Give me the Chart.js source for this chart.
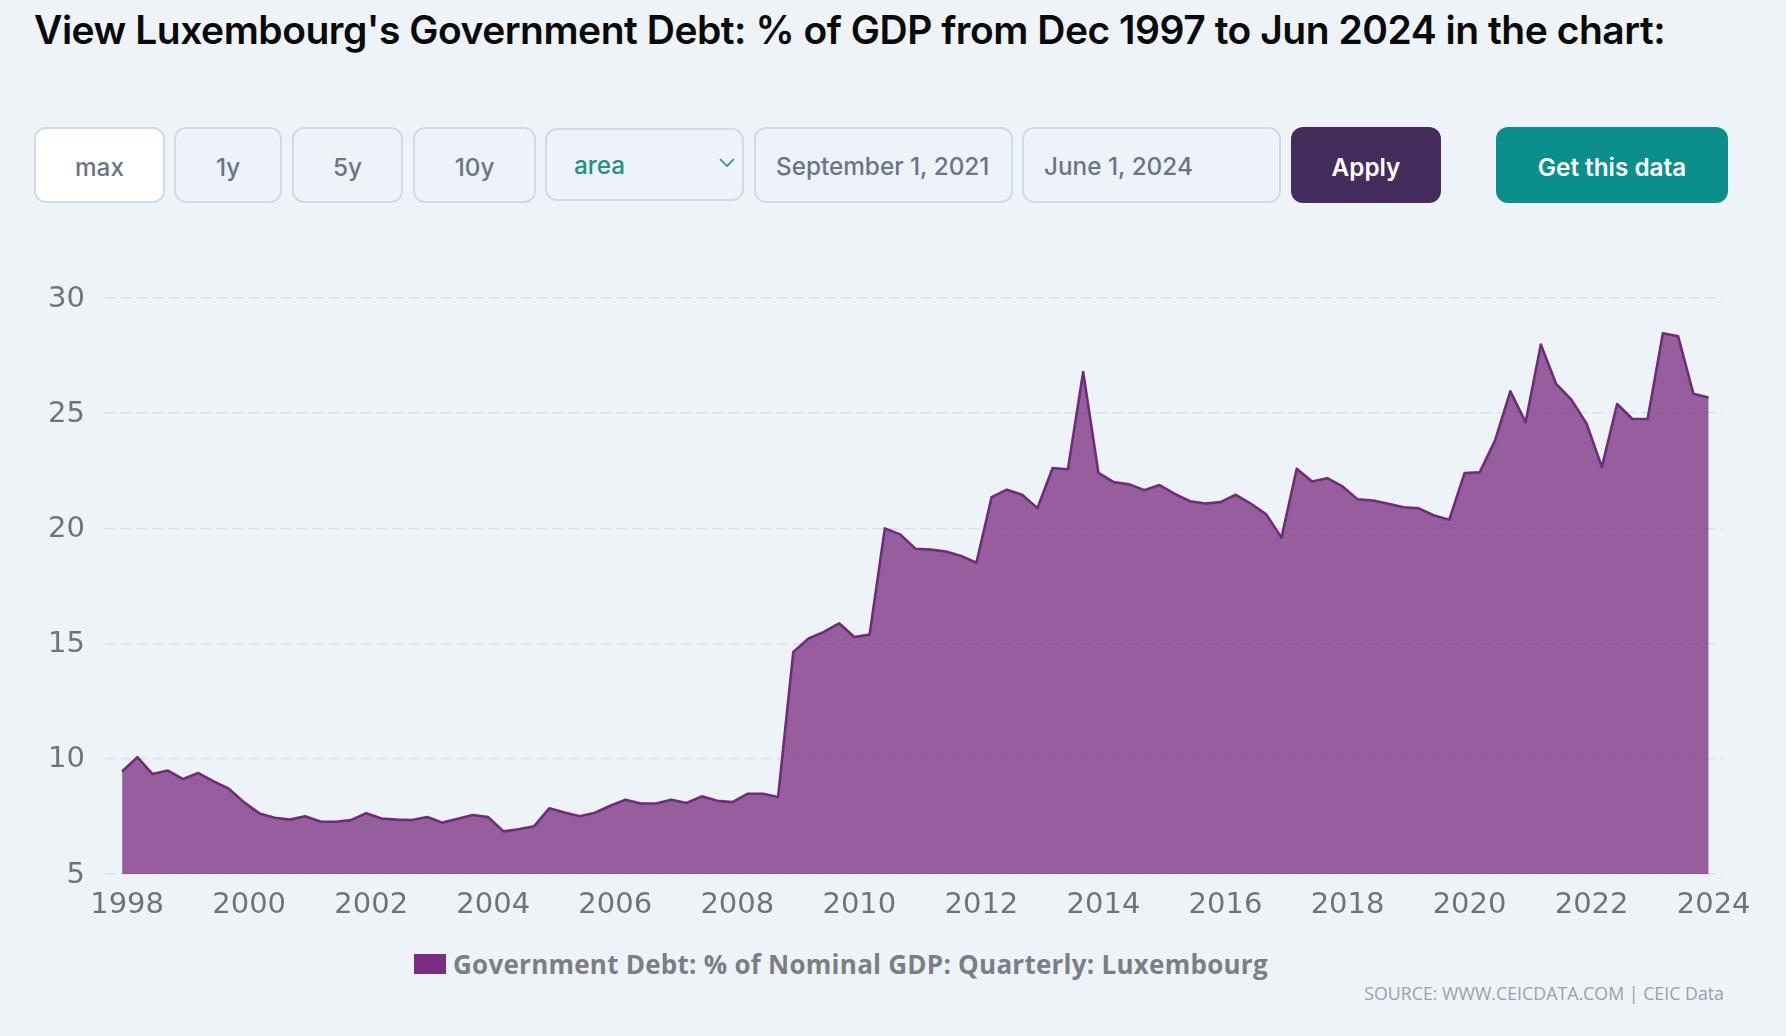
<!DOCTYPE html>
<html>
<head>
<meta charset="utf-8">
<title>Luxembourg Government Debt</title>
<script src="https://cdn.jsdelivr.net/npm/chart.js@4"></script>
<style>
  html, body { margin: 0; width: 1786px; height: 1036px; overflow: hidden; background: #eef3f8; font-family: Inter, sans-serif; }
  h1 { position: absolute; left: 34px; top: 7px; margin: 0; font-size: 39px; line-height: 46px; font-weight: 600; letter-spacing: -0.48px; color: #0a0a0a; white-space: nowrap; }
  .ctl { position: absolute; top: 127px; height: 76px; box-sizing: border-box; padding-top: 3px; border: 2px solid #cfdbe7; border-radius: 12px; background: #edf3f9; color: #6b7488; font-size: 24.3px; font-weight: 500; display: flex; align-items: center; justify-content: center; }
  .date { justify-content: flex-start; padding-left: 20px; padding-top: 1px; }
  .fill { border: none; color: #fff; font-weight: 600; }
  #chart { position: absolute; left: 0; top: 240px; }
  #legend { position: absolute; left: 414px; top: 944px; height: 40px; display: flex; align-items: center; color: #7a7f84; font: 700 26px "Open Sans", sans-serif; letter-spacing: 0.25px; white-space: nowrap; }
  #legend i { display: block; width: 32px; height: 20px; background: #7b2d85; margin-right: 7px; }
  #source { position: absolute; right: 62px; top: 981px; color: #9ba1a7; font: 17.8px "Open Sans", sans-serif; white-space: nowrap; }
</style>
</head>
<body>
<h1>View Luxembourg's Government Debt: % of GDP from Dec 1997 to Jun 2024 in the chart:</h1>

<div class="ctl" style="left:34px;width:131px;background:#fff">max</div>
<div class="ctl" style="left:174px;width:108px">1y</div>
<div class="ctl" style="left:292px;width:111px">5y</div>
<div class="ctl" style="left:413px;width:123px">10y</div>
<div class="ctl date" style="left:545px;width:199px;top:128px;height:73px;padding-left:27px;color:#1d9187">area
  <svg style="position:absolute;left:172px;top:28px" width="16" height="10" viewBox="0 0 16 10"><path d="M1 1l7 7 7-7" fill="none" stroke="#1d9187" stroke-width="1.6"/></svg>
</div>
<div class="ctl date" style="left:754px;width:259px">September 1, 2021</div>
<div class="ctl date" style="left:1022px;width:259px">June 1, 2024</div>
<div class="ctl fill" style="left:1291px;width:150px;background:#452c5c">Apply</div>
<div class="ctl fill" style="left:1496px;width:232px;background:#0b8f8c">Get this data</div>

<canvas id="chart" width="1786" height="690"></canvas>
<div id="legend"><i></i><span>Government Debt: % of Nominal GDP: Quarterly: Luxembourg</span></div>
<div id="source">SOURCE: WWW.CEICDATA.COM | CEIC Data</div>

<script>
const quarters = [
  1998, 1998.25, 1998.5, 1998.75, 1999, 1999.25, 1999.5, 1999.75,
  2000, 2000.25, 2000.5, 2000.75, 2001, 2001.25, 2001.5, 2001.75,
  2002, 2002.25, 2002.5, 2002.75, 2003, 2003.25, 2003.5, 2003.75,
  2004, 2004.25, 2004.5, 2004.75, 2005, 2005.25, 2005.5, 2005.75,
  2006, 2006.25, 2006.5, 2006.75, 2007, 2007.25, 2007.5, 2007.75,
  2008, 2008.25, 2008.5, 2008.75, 2009, 2009.25, 2009.5, 2009.75,
  2010, 2010.25, 2010.5, 2010.75, 2011, 2011.25, 2011.5, 2011.75,
  2012, 2012.25, 2012.5, 2012.75, 2013, 2013.25, 2013.5, 2013.75,
  2014, 2014.25, 2014.5, 2014.75, 2015, 2015.25, 2015.5, 2015.75,
  2016, 2016.25, 2016.5, 2016.75, 2017, 2017.25, 2017.5, 2017.75,
  2018, 2018.25, 2018.5, 2018.75, 2019, 2019.25, 2019.5, 2019.75,
  2020, 2020.25, 2020.5, 2020.75, 2021, 2021.25, 2021.5, 2021.75,
  2022, 2022.25, 2022.5, 2022.75, 2023, 2023.25, 2023.5, 2023.75,
  2024
];
const debtValues = [
  9.45, 10.07, 9.34, 9.49, 9.12, 9.38, 9.02, 8.70,
  8.11, 7.63, 7.44, 7.36, 7.51, 7.28, 7.27, 7.34,
  7.64, 7.41, 7.36, 7.34, 7.47, 7.23, 7.40, 7.56,
  7.47, 6.85, 6.94, 7.07, 7.85, 7.67, 7.51, 7.66,
  7.96, 8.22, 8.06, 8.06, 8.22, 8.08, 8.37, 8.18,
  8.12, 8.48, 8.48, 8.34, 14.64, 15.22, 15.51, 15.88,
  15.29, 15.39, 20.00, 19.74, 19.12, 19.08, 19.00, 18.80,
  18.51, 21.36, 21.68, 21.46, 20.88, 22.62, 22.57, 26.79,
  22.41, 22.01, 21.92, 21.66, 21.88, 21.50, 21.18, 21.08,
  21.14, 21.46, 21.07, 20.61, 19.60, 22.59, 22.04, 22.18,
  21.82, 21.26, 21.21, 21.07, 20.92, 20.87, 20.56, 20.38,
  22.40, 22.44, 23.82, 25.95, 24.61, 27.98, 26.27, 25.59,
  24.54, 22.66, 25.40, 24.75, 24.75, 28.47, 28.34, 25.84,
  25.68
];
const yearTicks = [1998, 2000, 2002, 2004, 2006, 2008, 2010, 2012, 2014, 2016, 2018, 2020, 2022, 2024];
const valueTicks = [5, 10, 15, 20, 25, 30];
const seriesName = "Government Debt: % of Nominal GDP: Quarterly: Luxembourg";

const tickFont = { family: "'DejaVu Sans', sans-serif", size: 29 };
const tickColor = "#6e7478";

new Chart(document.getElementById("chart").getContext("2d"), {
  type: "line",
  data: {
    datasets: [
      {
        label: seriesName,
        data: quarters.map((q, i) => ({ x: q, y: debtValues[i] })),
        borderColor: "#6d2c7c",
        backgroundColor: "rgba(121, 44, 128, 0.75)",
        borderWidth: 2.6,
        borderJoinStyle: "round",
        fill: "start",
        tension: 0,
        pointRadius: 0,
      },
    ],
  },
  options: {
    responsive: false,
    animation: false,
    layout: { padding: { top: 58, right: 63 } },
    plugins: { legend: { display: false }, tooltip: { enabled: false } },
    scales: {
      x: {
        type: "linear",
        min: 1997.72,
        max: 2024.235,
        grid: { display: false },
        border: { display: false },
        afterFit: (axis) => { axis.height = 56; },
        afterBuildTicks: (axis) => { axis.ticks = yearTicks.map((v) => ({ value: v })); },
        ticks: {
          font: tickFont,
          color: tickColor,
          padding: 6,
          labelOffset: 5,
          maxRotation: 0,
          autoSkip: false,
          callback: (v) => String(v),
        },
      },
      y: {
        min: 5,
        max: 30,
        grid: { color: "#d8dfe6", lineWidth: 1.5, drawTicks: false },
        border: { display: false, dash: [10, 6] },
        afterFit: (axis) => { axis.width = 105; },
        afterBuildTicks: (axis) => { axis.ticks = valueTicks.map((v) => ({ value: v })); },
        ticks: { font: tickFont, color: tickColor, padding: 20, labelOffset: 1 },
      },
    },
  },
});
</script>
</body>
</html>
